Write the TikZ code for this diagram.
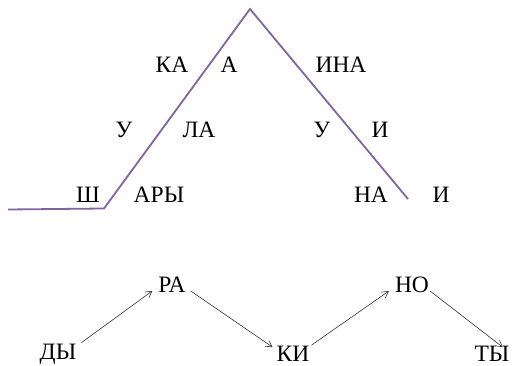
\documentclass[tikz,border=0pt]{standalone}
\usepackage{fontspec}
\setmainfont{Liberation Serif}
\usetikzlibrary{arrows.meta}
\definecolor{lineviolet}{RGB}{128,100,162}
\begin{document}
\begin{tikzpicture}[x=1pt,y=-1pt,
  lbl/.style={font=\fontsize{23.5}{26}\selectfont, inner sep=1pt},
  arr/.style={draw=black!80, line width=0.6pt, -{Straight Barb[length=6pt,width=7pt]}}]
\useasboundingbox (0,0) rectangle (512,366);
\coordinate (p0) at (8,209.5);
\coordinate (p1) at (104,208.5);
\coordinate (p2) at (250,9);
\coordinate (p3) at (408,199);
\draw[lineviolet, line width=1.8pt] (p0) -- (p1) -- (p2) -- (p3);
\node[lbl] (ka) at (172,65) {КА};
\node[lbl] (a) at (229,65) {А};
\node[lbl] (ina) at (341,65) {ИНА};
\node[lbl] (u1) at (124,130) {У};
\node[lbl] (la) at (199,130) {ЛА};
\node[lbl] (u2) at (322,130) {У};
\node[lbl] (i1) at (380,130) {И};
\node[lbl] (sh) at (88,195) {Ш};
\node[lbl] (ary) at (159,195) {АРЫ};
\node[lbl] (na) at (371,195) {НА};
\node[lbl] (i2) at (441,195) {И};
\node[lbl] (ra) at (172,285) {РА};
\node[lbl] (no) at (412,285) {НО};
\node[lbl] (dy) at (58,354) {ДЫ};
\node[lbl] (ki) at (293,354) {КИ};
\node[lbl] (ty) at (492,354) {ТЫ};
\draw[arr] (dy.north east) ++(4,0) coordinate (s1) (s1) -- ([xshift=-5pt,yshift=3pt]ra.south west);
\draw[arr] ([xshift=4pt,yshift=3pt]ra.south east) -- ([xshift=-3pt,yshift=-2pt]ki.north west);
\draw[arr] ([xshift=1pt]ki.north east) -- ([xshift=-5pt,yshift=3pt]no.south west);
\draw[arr] ([xshift=0pt,yshift=3pt]no.south east) -- ([xshift=-8pt,yshift=-2pt]ty.north east);
\end{tikzpicture}
\end{document}
